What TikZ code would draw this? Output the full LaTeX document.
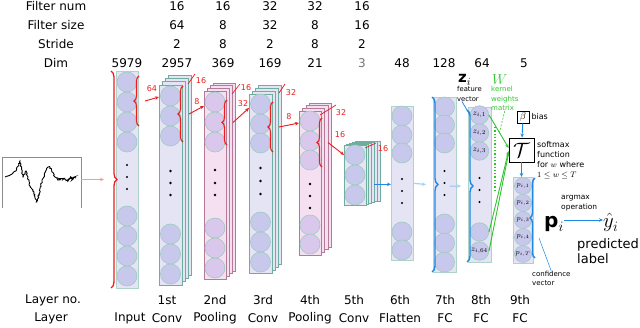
\documentclass[tikz,border=0pt]{standalone}
\usepackage{fontspec}
\setmainfont{DejaVu Sans}
\usepackage{amsmath}
\usepackage{xcolor}
\definecolor{convFill}{HTML}{E4E4F5}
\definecolor{convEdge}{HTML}{6FAE9F}
\definecolor{fcEdge}{HTML}{AFD3CB}
\definecolor{unitFill}{HTML}{C8C8EC}
\definecolor{unitEdge}{HTML}{9DCBBF}
\definecolor{poolFill}{HTML}{F4E0F1}
\definecolor{poolEdge}{HTML}{B47A98}
\definecolor{poolUnit}{HTML}{DAC8EC}
\definecolor{netRed}{HTML}{EE1C1C}
\definecolor{softRed}{HTML}{F39A9A}
\definecolor{netBlue}{HTML}{1E88E5}
\definecolor{softBlue}{HTML}{A9CDF3}
\definecolor{netGreen}{HTML}{2EC42E}
\usepackage{tikz}
\usetikzlibrary{
    arrows.meta,
    decorations.pathreplacing,
    decorations.pathmorphing,
    positioning,
    calc
}
\tikzset{
    % Text of the table and of the layer names
    head text/.style={
        font=\fontsize{12}{13}\selectfont,
        inner sep=0pt,
    },
    % Small remarks
    note/.style={
        font=\fontsize{8}{10}\selectfont,
        align=left,
        inner sep=0pt,
    },
    red note/.style={
        font=\fontsize{8}{9}\selectfont,
        text=netRed,
        inner sep=0pt,
    },
    % Sheets of the feature maps
    convsheet/.style={
        draw=convEdge,
        fill=convFill,
        line width=0.7pt,
        inner sep=0pt,
    },
    poolsheet/.style={
        draw=poolEdge,
        fill=poolFill,
        line width=0.7pt,
        inner sep=0pt,
    },
    fcsheet/.style={
        draw=fcEdge,
        fill=convFill,
        line width=0.7pt,
        inner sep=0pt,
    },
    % Units inside a sheet
    unit/.style={
        circle,
        draw=unitEdge,
        fill=unitFill,
        line width=0.6pt,
        minimum size=20pt,
        inner sep=0pt,
    },
    poolunit/.style={
        unit,
        fill=poolUnit,
    },
    % Braces and arrows
    red brace/.style={
        draw=netRed,
        line width=1.1pt,
        decorate,
        decoration={brace, amplitude=5pt},
    },
    blue brace/.style={
        draw=netBlue,
        line width=1.4pt,
        decorate,
        decoration={brace, amplitude=6pt},
    },
    red arrow/.style={
        -{Stealth[length=4pt, width=3.5pt]},
        draw=netRed,
        line width=0.9pt,
    },
    soft red arrow/.style={
        red arrow,
        draw=softRed,
    },
    blue arrow/.style={
        -{Stealth[length=4pt, width=3.5pt]},
        draw=netBlue,
        line width=0.9pt,
    },
    soft blue arrow/.style={
        blue arrow,
        draw=softBlue,
        line width=1.2pt,
    },
    green arrow/.style={
        -{Stealth[length=4pt, width=3.5pt]},
        draw=netGreen,
        line width=0.9pt,
    },
}

\begin{document}
\begin{tikzpicture}[x=1pt, y=-1pt]
    \useasboundingbox (0,0) rectangle (640,328);

    % Table of the hyper parameters
    \node[head text] (hfnum) at (56,6) {Filter num};
    \node[head text] (hfsize) at (56,25) {Filter size};
    \node[head text] (hstride) at (56,44) {Stride};
    \node[head text] (hdim) at (56,63) {Dim};
    \foreach \x/\fnum/\fsize/\strd in {177/16/64/2, 223/16/8/8, 270/32/32/2, 315/32/8/8, 362/16/16/2} {
        \node[head text] (fn\x) at (\x,6) {\fnum};
        \node[head text] (fs\x) at (\x,25) {\fsize};
        \node[head text] (sd\x) at (\x,44) {\strd};
    }
    \foreach \x/\dval in {127/5979, 177/2957, 223/369, 270/169, 315/21, 402/48, 444/128, 482/64, 524/5}
        \node[head text] (dim\x) at (\x,63) {\dval};
    \node[head text, text=black!55] (dim362) at (362,63) {3};

    % Input signal
    \node[minimum width=79pt, minimum height=51pt, inner sep=0pt, anchor=north west] (signal) at (2,157) {};
    \draw[black!45, line width=0.7pt] (signal.south west) -- (signal.north west) -- (signal.north east) -- (signal.south east);
    \pgfmathsetseed{11}
    \draw[line width=0.9pt, decorate, decoration={random steps, segment length=1.2pt, amplitude=0.7pt}]
        (5,177) -- (12,174) -- (16,171) -- (20,161) -- (23,177) -- (26,171) -- (30,186) -- (33,190)
        -- (37,202) -- (42,181) -- (47,168) -- (50,167) -- (55,177) -- (58,180);
    \draw[line width=0.9pt, decorate, decoration={random steps, segment length=0.8pt, amplitude=1.6pt}]
        (58,180) -- (76,178);

    % Input layer
    \node[fcsheet, anchor=north west, minimum width=22pt, minimum height=217pt] (input) at (116,71) {};
    \foreach \cy [count=\i] in {82,102,122,142,216,236,256,276}
        \node[unit] (in\i) at (127,\cy) {};
    \foreach \cy in {165,177,189} \fill (127,\cy) circle (1.1pt);

    % 1st conv
    \foreach \k in {3,2,1}
        \draw[convsheet] (159+3*\k,85-3.3*\k) rectangle ++(23,200);
    \node[convsheet, anchor=north west, minimum width=23pt, minimum height=200pt] (conv1) at (159,85) {};
    \foreach \cy [count=\i] in {96,116,136,234,254,274}
        \node[unit] (c1u\i) at (170.5,\cy) {};
    \foreach \cy in {171,183,195} \fill (170.5,\cy) circle (1.3pt);

    % 2nd pooling
    \foreach \k in {3,2,1}
        \draw[poolsheet] (204+3*\k,91-2.7*\k) rectangle ++(22,188);
    \node[poolsheet, anchor=north west, minimum width=22pt, minimum height=188pt] (pool2) at (204,91) {};
    \foreach \cy [count=\i] in {102,122,142,228,248,268}
        \node[poolunit] (p2u\i) at (215,\cy) {};
    \foreach \cy in {170,183,195} \fill (215,\cy) circle (1.3pt);

    % 3rd conv
    \foreach \k in {3,2,1}
        \draw[convsheet] (249+3.2*\k,94-3*\k) rectangle ++(23,179);
    \node[convsheet, anchor=north west, minimum width=23pt, minimum height=179pt] (conv3) at (249,94) {};
    \foreach \cy [count=\i] in {104,124,143,222,242,262}
        \node[unit] (c3u\i) at (260.5,\cy) {};
    \foreach \cy in {168,181,194} \fill (260.5,\cy) circle (1.3pt);

    % 4th pooling
    \foreach \k in {3,2,1}
        \draw[poolsheet] (299+3.6*\k,111-2.7*\k) rectangle ++(22,144);
    \node[poolsheet, anchor=north west, minimum width=22pt, minimum height=144pt] (pool4) at (299,111) {};
    \foreach \cy [count=\i] in {121,141,160,225,244}
        \node[poolunit] (p4u\i) at (310,\cy) {};
    \foreach \cy in {184,196,208} \fill (310,\cy) circle (1.3pt);

    % 5th conv
    \foreach \k in {5,4,3,2,1}
        \draw[convsheet] (344+2.8*\k,145-0.8*\k) rectangle ++(22,60);
    \node[convsheet, anchor=north west, minimum width=22pt, minimum height=60pt] (conv5) at (344,145) {};
    \foreach \cy [count=\i] in {155,175,195}
        \node[unit] (c5u\i) at (355,\cy) {};

    % 6th flatten
    \node[fcsheet, anchor=north west, minimum width=22pt, minimum height=154pt] (flat6) at (391,106) {};
    \foreach \cy [count=\i] in {116,135,153,232,250}
        \node[unit] (f6u\i) at (402,\cy) {};
    \foreach \cy in {179,191,203} \fill (402,\cy) circle (1.1pt);

    % 7th FC
    \node[fcsheet, anchor=north west, minimum width=23pt, minimum height=175pt] (fc7) at (433,97) {};
    \foreach \cy [count=\i] in {107,125,143,224,243,262}
        \node[unit] (f7u\i) at (444.5,\cy) {};
    \foreach \cy in {171,183,195} \fill (444.5,\cy) circle (1.1pt);

    % 8th FC
    \node[fcsheet, anchor=north west, minimum width=23pt, minimum height=155pt] (fc8) at (468,107) {};
    \begin{scope}[every node/.append style={unit, minimum size=18.5pt, font=\fontsize{8}{8}\selectfont}]
        \node (z1) at (479.5,115) {$z_{i,1}$};
        \node (z2) at (479.5,133) {$z_{i,2}$};
        \node (z3) at (479.5,151) {$z_{i,3}$};
        \node (z4) at (479.5,232) {};
        \node (z64) at (479.5,251) {$z_{i,64}$};
    \end{scope}
    \foreach \cy in {178,190,202} \fill (479.5,\cy) circle (1.1pt);

    % 9th FC
    \node[fcsheet, anchor=north west, minimum width=20pt, minimum height=86pt] (fc9) at (513,177) {};
    \begin{scope}[every node/.append style={unit, minimum size=17pt, font=\fontsize{7.5}{8}\selectfont}]
        \node (pu1) at (523,186) {$p_{i,1}$};
        \node (pu2) at (523,203) {$p_{i,2}$};
        \node (pu3) at (523,220) {$p_{i,3}$};
        \node (pu4) at (523,237) {$p_{i,4}$};
        \node (puT) at (523,254) {$p_{i,T}$};
    \end{scope}

    % Softmax and bias
    \node[draw, line width=0.8pt, fill=white, minimum width=25pt, minimum height=24pt, inner sep=0pt] (softmax) at (521.5,150)
        {\fontsize{22}{22}\selectfont$\mathcal{T}$};
    \node[draw, line width=0.6pt, fill=white, minimum size=12pt, inner sep=0pt] (bias) at (523,117) {$\beta$};
    \node[note, right=2pt of bias] (biastext) {bias};
    \node[note, anchor=west] (smtext) at (537,160) {softmax\\function\\for $w$ where\\$1\leq w\leq T$};
    \draw[blue arrow] (bias) -- (softmax);
    \draw[blue arrow] (softmax) -- (fc9.north -| softmax);

    % Red braces and arrows between the conv layers
    \draw[red brace, line width=1.3pt, decoration={brace, amplitude=6pt}] (111,71) -- (111,288);
    \coordinate (inbrace) at (104,179.5);
    \draw[soft red arrow] (signal.east |- inbrace) -- (inbrace);

    \draw[red brace] (139,126) -- (139,76);
    \coordinate (b0) at (145,101);
    \draw[red arrow] (b0) -- ($(conv1.north west)+(0,12)$);
    \node[red note] (k0) at (152,89) {64};

    \draw[red brace] (183,142) -- (183,86);
    \coordinate (b1) at (189,114);
    \draw[red arrow] (b1) -- ($(pool2.north west)+(0,15)$);
    \node[red note] (k1) at (197,102) {8};

    \draw[red brace] (227,145) -- (227,100);
    \coordinate (b2) at (233,122.5);
    \draw[red arrow] (b2) -- ($(conv3.north west)+(0,14)$);
    \node[red note] (k2) at (243,104) {32};

    \draw[red brace] (273,152) -- (273,102);
    \coordinate (b3) at (279,127);
    \draw[red arrow] (b3) -- ($(pool4.north west)+(0,12)$);
    \node[red note] (k3) at (289,117) {8};

    \draw[red brace] (322,167) -- (322,118);
    \coordinate (b4) at (328,142.5);
    \draw[red arrow] (b4) -- ($(conv5.north west)+(0,10)$);
    \node[red note] (k4) at (340,135) {16};

    % Depth of the stacks
    \draw[netRed, line width=0.7pt] (188,84) -- (195,74);
    \node[red note] (d1) at (201,81) {16};
    \draw[netRed, line width=0.7pt] (232,94) -- (240,84);
    \node[red note] (d2) at (246,88) {16};
    \draw[netRed, line width=0.7pt] (279,93) -- (285,84);
    \node[red note] (d3) at (291,93) {32};
    \draw[netRed, line width=0.7pt] (320,115) -- (336,105);
    \node[red note] (d4) at (341,113) {32};
    \draw[netRed, line width=0.7pt] (365,148) -- (376,143);
    \node[red note] (d5) at (383,149) {16};

    % Blue braces and arrows of the FC part
    \draw[blue arrow] ($(conv5.east)+(7,9)$) -- ($(flat6.west)+(0,1)$);
    \draw[blue brace] (432,97) -- (432,272);
    \coordinate (b7) at (426,184.5);
    \draw[soft blue arrow] (flat6.east) -- (b7);
    \draw[blue brace] (467,110) -- (467,262);
    \coordinate (b8) at (461,186);
    \draw[soft blue arrow] ($(fc7.east)+(-7,1.5)$) -- (b8);

    % Feature vector and weights
    \node[anchor=base west, inner sep=0pt] (zvec) at (458,83) {\fontsize{15}{15}\selectfont$\mathbf{z}_i$};
    \node[note, font=\fontsize{6.8}{9.5}\selectfont, anchor=west] (fvtext) at (457,94) {feature\\vector};
    \draw[netBlue, line width=0.8pt] ($(fvtext.south west)+(5,0)$) -- (z1.west);
    \node[anchor=base west, inner sep=0pt, text=netGreen] (wmat) at (492,85) {\fontsize{15}{15}\selectfont$W$};
    \node[note, font=\fontsize{7}{9.5}\selectfont, text=netGreen, anchor=west] (wtext) at (491,98.5) {kernel\\weights\\matrix};
    \coordinate (wpoint) at (499,134);
    \draw[netGreen, line width=0.6pt, dash pattern=on 2pt off 1.5pt] (wtext.south) -- (wpoint);
    \draw[netGreen, line width=1.3pt, dotted] (495,127) -- (495,190);
    \draw[green arrow] (z1.east) -- ($(softmax.west)+(0,-2)$);
    \draw[green arrow] (z4.east) -- ($(softmax.west)+(0,1)$);
    \draw[green arrow] (z64.east) -- ($(softmax.west)+(0,3)$);

    % Output
    \draw[blue brace, decoration={brace, amplitude=5pt}] (535,258) -- (535,178);
    \coordinate (b9) at (540,218);
    \coordinate (cvpt) at (539,238);
    \node[note, font=\fontsize{7}{8.5}\selectfont, anchor=west] (ctext) at (532,278.5) {confidence\\vector};
    \draw[netBlue, line width=0.5pt] (cvpt) -- (ctext.north);
    \node[anchor=base west, inner sep=0pt] (pvec) at (544,228) {\fontsize{20}{20}\selectfont$\mathbf{p}_i$};
    \node[anchor=base west, inner sep=0pt] (yhat) at (603,228) {\fontsize{20}{20}\selectfont$\hat{y}_i$};
    \draw[blue arrow] (pvec.east |- 0,220) -- (yhat.west |- 0,220);
    \node[note, font=\fontsize{7.5}{9.5}\selectfont, anchor=west] (amtext) at (561,203) {argmax\\operation};
    \node[note, font=\fontsize{13}{15}\selectfont, anchor=north west] (ptext) at (577,238) {predicted\\label};

    % Layer names
    \node[head text] (lno) at (53,300) {Layer no.};
    \node[head text] (lname) at (51,318) {Layer};
    \node[head text] (linput) at (130,318) {Input};
    \foreach \x/\lnum/\ltype in {167/1st/Conv, 215/2nd/Pooling, 263/3rd/Conv, 310/4th/Pooling, 354/5th/Conv,
                               400/6th/Flatten, 445/7th/FC, 481/8th/FC, 520/9th/FC} {
        \node[head text] (ln\x) at (\x,300) {\lnum};
        \node[head text] (lt\x) at (\x,318) {\ltype};
    }
\end{tikzpicture}
\end{document}
